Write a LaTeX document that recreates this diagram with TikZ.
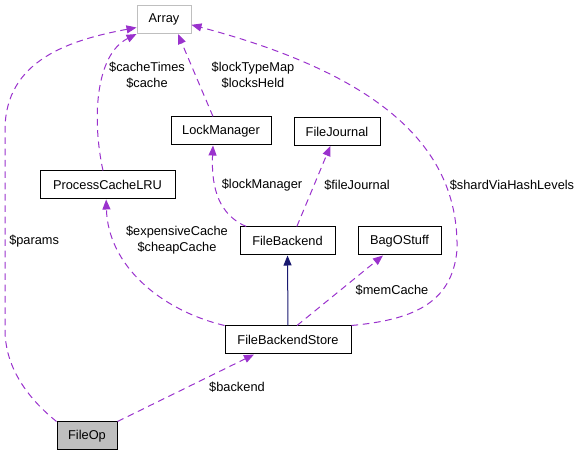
\documentclass[tikz,border=0pt]{standalone}
\usepackage{fontspec}
\setmainfont{Liberation Sans}
\usetikzlibrary{arrows.meta}
\definecolor{usec}{HTML}{9A32CD}
\definecolor{inheritc}{HTML}{191970}
\definecolor{greyframe}{HTML}{BFBFBF}
\definecolor{greyfill}{HTML}{BFBFBF}

\begin{document}
\begin{tikzpicture}[x=0.75pt, y=-0.75pt,
    cls/.style={draw, line width=0.75pt, minimum height=21pt, inner sep=0pt, font=\fontsize{9.6}{12}\selectfont},
    lbl/.style={font=\fontsize{9.6}{12}\selectfont, align=center, inner sep=0pt},
    uses/.style={usec, line width=0.75pt, dash pattern=on 5pt off 3.5pt, -{Triangle[length=7.5pt,width=6pt]}},
    inherits/.style={inheritc, line width=0.75pt, -{Triangle[length=7.5pt,width=6pt]}}]
    \useasboundingbox (0,0) rectangle (583,456);
    % classes
    \node[cls, draw=greyframe, minimum width=40.5pt] (arr) at (164,19.5) {Array};
    \node[cls, minimum width=75pt] (lm) at (221,131) {LockManager};
    \node[cls, minimum width=64.5pt] (fj) at (337,131.5) {FileJournal};
    \node[cls, minimum width=101.25pt] (pcl) at (107.5,185) {ProcessCacheLRU};
    \node[cls, minimum width=71.25pt] (fb) at (287.5,241) {FileBackend};
    \node[cls, minimum width=62.25pt] (bag) at (399.5,241) {BagOStuff};
    \node[cls, minimum width=94.5pt] (fbs) at (288,340) {FileBackendStore};
    \node[cls, fill=greyfill, minimum width=45pt] (fop) at (87,436) {FileOp};
    % inheritance
    \draw[inherits] (fbs.north) -- (fb.south);
    % members
    \draw[uses] (fop.north west) .. controls (20,392) and (5,360) .. (5,330) -- (5,130)
      .. controls (5,60) and (70,40) .. ([yshift=-6pt]arr.west);
    \draw[uses] ([xshift=-3.4pt]pcl.north) .. controls (92,120) and (95,55) .. (arr.south west);
    \draw[uses] ([xshift=-6pt]lm.north) -- ([xshift=10.5pt]arr.south);
    \draw[uses] (fbs.north east) .. controls (410,320) and (452,305) .. (457,250)
      .. controls (459,160) and (400,80) .. ([yshift=-4pt]arr.east);
    \draw[uses] ([xshift=5pt]fb.north west) .. controls (220,215) and (211,190) .. ([xshift=-6pt]lm.south);
    \draw[uses] ([xshift=7pt]fb.north) -- ([xshift=-5pt]fj.south);
    \draw[uses] (fbs.north west) .. controls (160,310) and (108,265) .. ([xshift=-1pt]pcl.south);
    \draw[uses] ([xshift=6.75pt]fbs.north) -- ([xshift=-12.4pt]bag.south);
    \draw[uses] (fop.north east) -- ([xshift=-25.5pt]fbs.south);
    % member names
    \node[lbl, anchor=west] (lparams) at (9,241) {\$params};
    \node[lbl] (lcache) at (147,75) {\$cacheTimes\\\$cache};
    \node[lbl] (llocks) at (253,75) {\$lockTypeMap\\\$locksHeld};
    \node[lbl] (lshard) at (512,185) {\$shardViaHashLevels};
    \node[lbl] (llm) at (262,185) {\$lockManager};
    \node[lbl] (lfj) at (357,185) {\$fileJournal};
    \node[lbl] (lexp) at (177,240) {\$expensiveCache\\\$cheapCache};
    \node[lbl] (lmem) at (392,290) {\$memCache};
    \node[lbl] (lback) at (237,387) {\$backend};
\end{tikzpicture}
\end{document}
